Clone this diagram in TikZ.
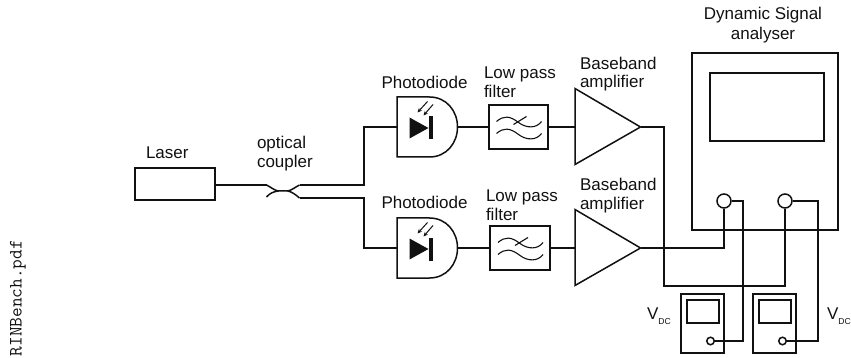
\documentclass[tikz,border=0pt]{standalone}
\usepackage{fontspec}
\setmainfont{Liberation Sans}
\usetikzlibrary{arrows.meta}
\newcommand{\lblfont}{\fontsize{17}{19}\selectfont}
\newcommand{\VDC}{V\raisebox{-5pt}{\fontsize{8.6}{10}\selectfont DC}}
\definecolor{ink}{HTML}{111111}
\tikzset{
  wire/.style={draw=ink,line width=1.6pt,line join=miter},
  slant/.style={draw=ink,line width=1.5pt,line join=miter},
  boxnode/.style={draw=ink,line width=1.6pt,inner sep=0pt,fill=white},
  lbl/.style={inner sep=0pt,outer sep=0pt,anchor=base west,font=\lblfont,text=ink,align=left},
  port/.style={circle,draw=ink,line width=1.5pt,inner sep=0pt,minimum size=#1,fill=white},
  ray/.style={draw=ink,line width=1pt,-{Stealth[length=4.5pt,width=4pt]}}
}
% photodiode body: #1 name prefix, #2 centre y (y grows downward inside the scope)
\newcommand{\photodiode}[2]{%
  \begin{scope}[yshift=-#2pt,yscale=-1]
    \draw[slant,fill=white] (397.5,-30) -- (430,-30)
       .. controls (447,-30) and (458,-16) .. (458,0)
       .. controls (458,16) and (447,30) .. (430,30)
       -- (397.5,30) -- cycle;
    \coordinate (#1in) at (397.5,0);
    \coordinate (#1out) at (458,0);
    \fill[ink] (410,-9.5) -- (410,11.5) -- (429,1) -- cycle;
    \fill[ink] (429,-10.5) rectangle (433,12.5);
    \draw[ray] (428,-25.5) -- (418,-14.5);
    \draw[ray] (433.5,-22.5) -- (424,-11.5);
  \end{scope}}
% filter waves: #1 left x, #2 centre y (y grows downward inside the scope)
\newcommand{\waves}[2]{%
  \begin{scope}[xshift=#1pt,yshift=-#2pt,yscale=-1]
    \draw[draw=ink,line width=1.1pt] (8,-5.5) .. controls (15,-11.5) and (21,-11.5) .. (30,-4.5)
       .. controls (38,1.5) and (48,1.5) .. (53,-5.5);
    \draw[draw=ink,line width=1.1pt] (8,6.5) .. controls (15,0.5) and (21,0.5) .. (30,7.5)
       .. controls (38,13.5) and (48,13.5) .. (53,6.5);
    \draw[draw=ink,line width=1.1pt] (25,-2.5) -- (38,-10.5);
  \end{scope}}
\begin{document}
\begin{tikzpicture}[x=1pt,y=1pt]
\useasboundingbox (0,0) rectangle (851,-358);
\begin{scope}[shift={(-0.5,0.5)}]
% Laser and coupler
\node[boxnode,minimum width=80pt,minimum height=32pt] (laser) at (175.5,-184.5) {};
\coordinate (cplinu) at (267,-185.5);
\coordinate (cplinl) at (267,-197.5);
\coordinate (cplmida) at (279,-191.5);
\coordinate (cplmidb) at (288,-191.5);
\coordinate (cploutu) at (300,-185.5);
\coordinate (cploutl) at (300,-198.5);
\draw[wire] (laser.east |- cplinu) -- (cplinu);
\draw[slant] (cplinu) .. controls (272,-188) and (275,-191) .. (cplmida) -- (cplmidb)
   .. controls (292,-191) and (295,-188) .. (cploutu);
\draw[slant] (cplinl) .. controls (270,-194) and (274,-192) .. (cplmida);
\draw[slant] (cplmidb) .. controls (292,-192) and (296,-195) .. (cploutl);
% Photodiodes
\photodiode{pda}{127.5}
\photodiode{pdb}{248.5}
% Filters
\node[boxnode,minimum width=59pt,minimum height=44pt] (fa) at (519,-127.5) {};
\node[boxnode,minimum width=60pt,minimum height=44pt] (fb) at (520.5,-248.5) {};
\waves{489}{127.5}
\waves{490.5}{248.5}
% Amplifiers
\draw[slant,fill=white] (575.5,-89) -- (641,-127.5) -- (575.5,-165) -- cycle;
\draw[slant,fill=white] (575.5,-210) -- (641,-248.5) -- (575.5,-286) -- cycle;
\coordinate (aain) at (575.5,-127.5);
\coordinate (aaout) at (641,-127.5);
\coordinate (abin) at (575.5,-248.5);
\coordinate (about) at (641,-248.5);
% Analyser
\node[boxnode,minimum width=146pt,minimum height=177pt] (dsa) at (765.5,-142) {};
\node[boxnode,minimum width=114pt,minimum height=68pt] (dsascreen) at (767.5,-107.5) {};
% Voltmeters
\node[boxnode,minimum width=43pt,minimum height=59pt] (ma) at (703,-324) {};
\node[boxnode,minimum width=32pt,minimum height=23pt] (mas) at (703.5,-312) {};
\node[boxnode,minimum width=43pt,minimum height=59pt] (mb) at (775,-324) {};
\node[boxnode,minimum width=32pt,minimum height=23pt] (mbs) at (775.5,-312) {};
% Ports
\node[port=14pt] (pa) at (724.5,-201.5) {};
\node[port=14pt] (pb) at (785.5,-201.5) {};
\node[port=7.5pt] (qa) at (711,-341.5) {};
\node[port=7.5pt] (qb) at (783,-341.5) {};
% Connectors
\draw[wire] (cploutu) -- (364.5,-185.5) -- (364.5,-127.5) -- (pdain);
\draw[wire] (cploutl) -- (364.5,-198.5) -- (364.5,-248.5) -- (pdbin);
\draw[wire] (pdaout) -- (fa.west);
\draw[wire] (pdbout) -- (fb.west);
\draw[wire] (fa.east) -- (aain);
\draw[wire] (fb.east) -- (abin);
\draw[wire] (aaout) -- (664.5,-127.5) -- (664.5,-286.5) -| (pb.south);
\draw[wire] (about) -| (pa.south);
\draw[wire] (pa.east) -- (743.5,-201.5) |- (qa.east);
\draw[wire] (pb.east) -- (818.5,-201.5) |- (qb.east);
\end{scope}
% Labels
\node[lbl] (tlaser) at (146,-159) {Laser};
\node[lbl] (tcoupa) at (257,-149) {optical};
\node[lbl] (tcoupb) at (257,-168) {coupler};
\node[lbl] (tpda) at (381.5,-89) {Photodiode};
\node[lbl] (tpdb) at (381.5,-208) {Photodiode};
\node[lbl] (tfa1) at (484,-79) {Low pass};
\node[lbl] (tfa2) at (484,-98) {filter};
\node[lbl] (tfb1) at (486,-201) {Low pass};
\node[lbl] (tfb2) at (486,-220) {filter};
\node[lbl] (taa1) at (580,-70) {Baseband};
\node[lbl] (taa2) at (580,-88) {amplifier};
\node[lbl] (tab1) at (580,-191) {Baseband};
\node[lbl] (tab2) at (580,-210) {amplifier};
\node[lbl,anchor=base] (td1) at (763,-20) {Dynamic Signal};
\node[lbl,anchor=base] (td2) at (763,-40) {analyser};
\node[lbl] (tva) at (647,-319) {\VDC};
\node[lbl] (tvb) at (827,-319) {\VDC};
\node[inner sep=0pt,rotate=90,anchor=base west,font=\fontsize{18.8}{19}\ttfamily\selectfont,text=ink] (tfile) at (21.5,-356.5) {RINBench.pdf};
\end{tikzpicture}
\end{document}
